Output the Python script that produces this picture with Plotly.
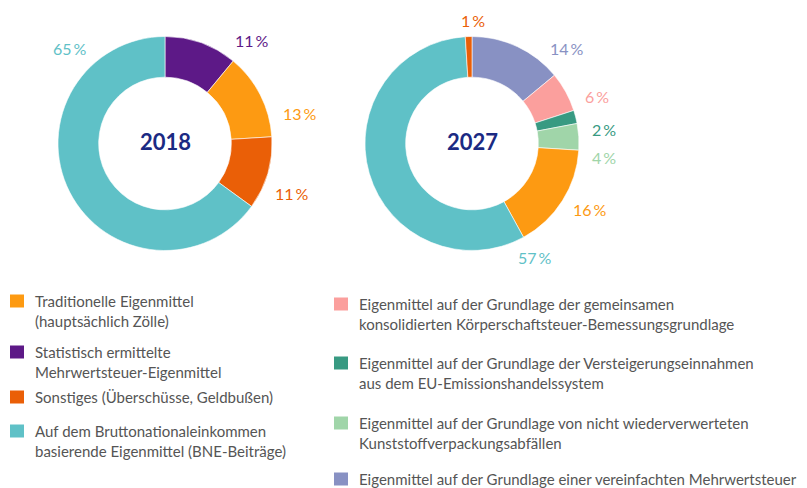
import plotly.graph_objects as go

W, H = 807, 488

# ---- data ----
categories = [
    "Traditionelle Eigenmittel<br>(hauptsächlich Zölle)",
    "Statistisch ermittelte<br>Mehrwertsteuer-Eigenmittel",
    "Sonstiges (Überschüsse, Geldbußen)",
    "Auf dem Bruttonationaleinkommen<br>basierende Eigenmittel (BNE-Beiträge)",
    "Eigenmittel auf der Grundlage der gemeinsamen<br>konsolidierten Körperschaftsteuer-Bemessungsgrundlage",
    "Eigenmittel auf der Grundlage der Versteigerungseinnahmen<br>aus dem EU-Emissionshandelssystem",
    "Eigenmittel auf der Grundlage von nicht wiederverwerteten<br>Kunststoffverpackungsabfällen",
    "Eigenmittel auf der Grundlage einer vereinfachten Mehrwertsteuer",
]
colors = ["#fd9a12", "#5d1987", "#ea5f07", "#5fc1c7",
          "#fb9f9d", "#389a82", "#a0d5a9", "#8891c3"]

years = ["2018", "2027"]
# indices into categories, clockwise from 12 o'clock
order_2018 = [1, 0, 2, 3]
values_2018 = [11, 13, 11, 65]
order_2027 = [7, 4, 5, 6, 0, 3, 2]
values_2027 = [14, 6, 2, 4, 16, 57, 1]

# ---- layout helpers ----
def px(x):
    return x / W

def py(y):
    return 1 - y / H

FONT = "Lato"
fig = go.Figure()

centers = [(165, 143.5), (472, 143.5)]
R = 107
pie_sets = [(order_2018, values_2018), (order_2027, values_2027)]
for (cx, cy), (order, vals), yr in zip(centers, pie_sets, years):
    fig.add_trace(go.Pie(
        labels=[categories[i] for i in order],
        values=vals,
        marker=dict(colors=[colors[i] for i in order],
                    line=dict(color="white", width=0.6)),
        hole=0.62,
        sort=False,
        direction="clockwise",
        rotation=0,
        textinfo="none",
        hoverinfo="label+percent",
        showlegend=False,
        domain=dict(x=[px(cx - R), px(cx + R)], y=[py(cy + R), py(cy - R)]),
        name=yr,
    ))
    fig.add_annotation(x=px(cx), y=py(cy - 2), xref="paper", yref="paper",
                       text=yr, showarrow=False,
                       font=dict(family=FONT, size=22, color="#1b2a83", weight=700),
                       xanchor="center", yanchor="middle")

# percentage label positions (pixel centers), in slice order
label_pos_2018 = [(252, 41), (300, 113), (292, 194), (70, 48)]
label_pos_2027 = [(567, 49), (597, 97), (604, 129), (604, 157),
                  (590, 209), (535, 257), (473, 20)]
for order, vals, poss in [(order_2018, values_2018, label_pos_2018),
                          (order_2027, values_2027, label_pos_2027)]:
    for i, v, (x, y) in zip(order, vals, poss):
        fig.add_annotation(x=px(x), y=py(y), xref="paper", yref="paper",
                           text=f"{v}\u2009%", showarrow=False,
                           font=dict(family=FONT, size=16, color=colors[i]),
                           xanchor="center", yanchor="middle")

# ---- custom legend ----
legend_left = [0, 1, 2, 3]
legend_right = [4, 5, 6, 7]
left_rows = [301, 352, 397, 431]
right_rows = [304, 363, 423, 479]
LINE = 20
for idxs, rows, sx, tx in [(legend_left, left_rows, 10, 33),
                           (legend_right, right_rows, 334, 357)]:
    for i, yc in zip(idxs, rows):
        fig.add_shape(type="rect", xref="paper", yref="paper",
                      x0=px(sx), x1=px(sx + 14), y0=py(yc - 6.5), y1=py(yc + 6.5),
                      fillcolor=colors[i], line=dict(width=0))
        for k, line in enumerate(categories[i].split("<br>")):
            fig.add_annotation(x=px(tx), y=py(yc + k * LINE), xref="paper", yref="paper",
                               text=line, showarrow=False,
                               font=dict(family=FONT, size=15, color="#555555"),
                               xanchor="left", yanchor="middle")

fig.update_layout(
    width=W, height=H,
    margin=dict(l=0, r=0, t=0, b=0),
    paper_bgcolor="white", plot_bgcolor="white",
    showlegend=False,
)
fig.write_html("out.html",
               config={"displayModeBar": False},
               post_script="document.body.style.margin='0px';document.body.style.overflow='hidden';")
